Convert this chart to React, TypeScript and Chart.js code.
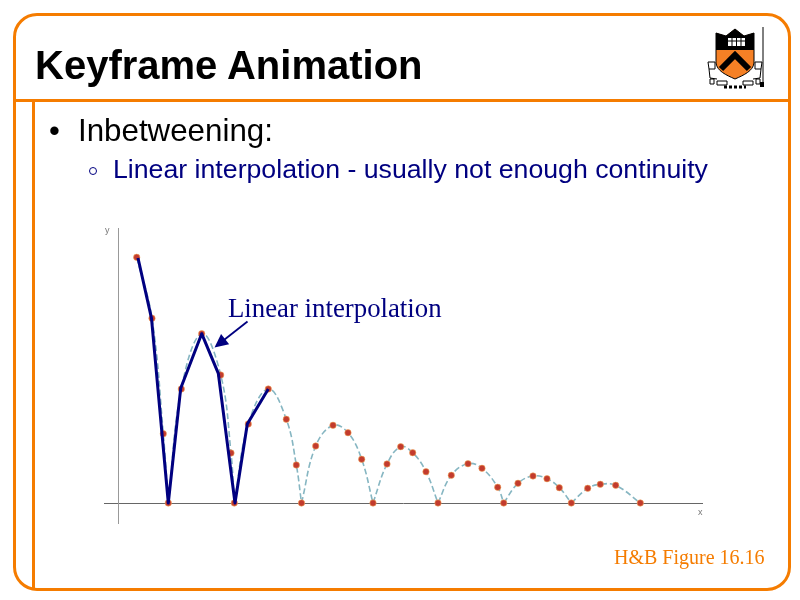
import React, { useEffect, useRef } from "react";
import { Chart, registerables } from "chart.js";

Chart.register(...registerables);

type P = { x: number; y: number };
const pts = (a: number[][]): P[] => a.map(([x, y]) => ({ x, y }));

const keyframes = [
  [18.7, 245.7], [34, 184.7], [45.3, 69.3], [50.3, 0], [63.3, 114], [83.7, 169.3], [102.7, 128], [113, 50],
  [116.3, 0], [130.3, 79], [150.3, 114], [168.3, 83.7], [178.3, 38], [183.5, 0], [197.7, 57], [215, 77.7],
  [230, 70.3], [243.7, 43.7], [255, 0], [269, 39], [282.7, 56.3], [294.7, 50.3], [308, 31.3], [320, 0],
  [333.3, 27.7], [350, 39.3], [364, 34.7], [379.7, 15.7], [385.7, 0], [400, 19.7], [415, 27], [429, 24.3],
  [441.3, 15.3], [453.3, 0], [469.7, 14.7], [482.3, 18.7], [497.7, 17.7], [522.3, 0],
];

const arc1 = [[18.7, 245.7], [34, 184.7], [45.3, 69.3], [50.3, 0]];
const arc2 = [[50.3, 0], [63.3, 114], [83.7, 169.3], [102.7, 128], [113, 50], [116.3, 0]];
const arc3 = [[116.3, 0], [130.3, 79], [150.3, 114], [168.3, 83.7], [178.3, 38], [183.5, 0]];
const arc4 = [[183.5, 0], [197.7, 57], [215, 77.7], [230, 70.3], [243.7, 43.7], [255, 0]];
const arc5 = [[255, 0], [269, 39], [282.7, 56.3], [294.7, 50.3], [308, 31.3], [320, 0]];
const arc6 = [[320, 0], [333.3, 27.7], [350, 39.3], [364, 34.7], [379.7, 15.7], [385.7, 0]];
const arc7 = [[385.7, 0], [400, 19.7], [415, 27], [429, 24.3], [441.3, 15.3], [453.3, 0]];
const arc8 = [[453.3, 0], [469.7, 14.7], [482.3, 18.7], [497.7, 17.7], [522.3, 0]];
const arcs = [arc1, arc2, arc3, arc4, arc5, arc6, arc7, arc8];

const linearPath = [
  [20, 245], [33.5, 184.7], [50.3, 0], [62.7, 114.7], [83.7, 169.3], [100.3, 129.7], [117, 0], [129.3, 79], [150.3, 114],
];

const arrowFrom = [129.5, 181.5];
const arrowTo = [96.5, 155.5];
const annotationLabel = "Linear interpolation";
const annotationAt = [110, 186];

const NAVY = "#000080";
const ORANGE = "#f57c00";

const overlay = {
  id: "overlay",
  afterDatasetsDraw(chart: any) {
    const { ctx, scales } = chart;
    const X = scales.x, Y = scales.y;
    const x1 = X.getPixelForValue(arrowFrom[0]), y1 = Y.getPixelForValue(arrowFrom[1]);
    const x2 = X.getPixelForValue(arrowTo[0]), y2 = Y.getPixelForValue(arrowTo[1]);
    const a = Math.atan2(y2 - y1, x2 - x1);
    ctx.save();
    ctx.strokeStyle = NAVY;
    ctx.fillStyle = NAVY;
    ctx.lineWidth = 1.8;
    ctx.beginPath();
    ctx.moveTo(x1, y1);
    ctx.lineTo(x2 - 8 * Math.cos(a), y2 - 8 * Math.sin(a));
    ctx.stroke();
    ctx.beginPath();
    ctx.moveTo(x2, y2);
    ctx.lineTo(x2 - 15 * Math.cos(a - 0.45), y2 - 15 * Math.sin(a - 0.45));
    ctx.lineTo(x2 - 15 * Math.cos(a + 0.45), y2 - 15 * Math.sin(a + 0.45));
    ctx.closePath();
    ctx.fill();
    ctx.font = '26.8px "Liberation Serif"';
    ctx.textBaseline = "alphabetic";
    ctx.fillText(annotationLabel, X.getPixelForValue(annotationAt[0]), Y.getPixelForValue(annotationAt[1]));
    ctx.fillStyle = "#777";
    ctx.font = '9px "Liberation Sans"';
    ctx.fillText("y", 105, 233);
    ctx.fillText("x", 698, 515);
    ctx.restore();
  },
};

const abs = (o: React.CSSProperties): React.CSSProperties => ({ position: "absolute", whiteSpace: "nowrap", margin: 0, ...o });

function Logo() {
  return (
    <svg width="80" height="72" viewBox="0 0 80 72" style={abs({ left: 700, top: 24 })}>
      <path d="M16 9 L26 12 L35 5 L44 12 L54 9 L54 39 C53 47 44 51 35 55 C26 51 17 47 16 39 Z" fill="#f58025" stroke="#000" strokeWidth="1" />
      <path d="M16 9 L26 12 L35 5 L44 12 L54 9 L54 26 L16 26 Z" fill="#000" />
      <path d="M21 45 L35 31 L49 45" fill="none" stroke="#000" strokeWidth="6" />
      <rect x="28" y="14" width="17" height="8" fill="#fff" />
      <path d="M32 14 V22 M36.5 14 V22 M41 14 V22 M28 17 H45" stroke="#000" strokeWidth="1" />
      <path d="M8 38 H15 V45 H9 Z M9 45 L10 54 L17 55 M10 55 H14 V60 H10 Z M17 57 H27 V61 H17 Z" fill="none" stroke="#000" strokeWidth="1" />
      <path d="M62 38 H55 V45 H61 Z M61 45 L60 54 L53 55 M60 55 H56 V60 H60 Z M53 57 H43 V61 H53 Z" fill="none" stroke="#000" strokeWidth="1" />
      <path d="M24 63 H46" stroke="#000" strokeWidth="3" strokeDasharray="3 2" />
      <path d="M63 3 V62" stroke="#000" strokeWidth="1" />
      <rect x="60" y="58" width="4" height="5" fill="#000" />
    </svg>
  );
}

export default function App() {
  const ref = useRef<HTMLCanvasElement>(null);
  useEffect(() => {
    const dashed = arcs.map((a) => ({
      data: pts(a),
      showLine: true,
      borderColor: "#86b6c2",
      borderWidth: 1.6,
      borderDash: [6, 3],
      tension: 0.4,
      pointRadius: 0,
      order: 3,
    }));
    const chart = new Chart(ref.current!, {
      type: "scatter",
      data: {
        datasets: [
          ...dashed,
          {
            data: pts(keyframes),
            showLine: false,
            pointRadius: 3.2,
            pointBackgroundColor: "#c23b2e",
            pointBorderColor: "rgba(245,170,90,0.7)",
            pointBorderWidth: 0.8,
            order: 2,
          },
          {
            data: pts(linearPath),
            showLine: true,
            borderColor: NAVY,
            borderWidth: 3,
            borderJoinStyle: "round",
            tension: 0,
            pointRadius: 0,
            order: 1,
          },
        ],
      },
      options: {
        animation: false,
        responsive: false,
        layout: { padding: { left: 104, right: 98, top: 228, bottom: 77 } },
        plugins: { legend: { display: false }, tooltip: { enabled: false } },
        scales: {
          x: {
            type: "linear",
            min: -14,
            max: 584,
            position: { y: 0 },
            grid: { display: false, drawTicks: false },
            border: { display: true, color: "#666", width: 1 },
            ticks: { display: false },
          },
          y: {
            type: "linear",
            min: -20,
            max: 275,
            position: { x: 0 },
            grid: { display: false, drawTicks: false },
            border: { display: true, color: "#999", width: 1 },
            ticks: { display: false },
          },
        },
      },
      plugins: [overlay],
    } as any);
    return () => chart.destroy();
  }, []);

  return (
    <div style={{ position: "fixed", left: 0, top: 0, width: 800, height: 600, background: "#fff", overflow: "hidden" }}>
      <canvas ref={ref} width={800} height={600} style={abs({ left: 0, top: 0, display: "block" })} />
      <div style={abs({ left: 13, top: 13, width: 772, height: 572, border: `3px solid ${ORANGE}`, borderRadius: 24 })} />
      <div style={abs({ left: 13, top: 99, width: 776, height: 3, background: ORANGE })} />
      <div style={abs({ left: 32, top: 100, width: 3, height: 488, background: ORANGE })} />
      <div style={abs({ left: 35, top: 40, font: 'bold 40px/50px "Liberation Sans"', color: "#000" })}>Keyframe Animation</div>
      <div style={abs({ left: 49, top: 113, font: '31px/36px "Liberation Sans"', color: "#000" })}>•</div>
      <div style={abs({ left: 78, top: 113, font: '31.3px/36px "Liberation Sans"', color: "#000" })}>Inbetweening:</div>
      <div style={abs({ left: 89, top: 167, width: 6, height: 6, border: `1px solid ${NAVY}`, borderRadius: "50%" })} />
      <div style={abs({ left: 113, top: 152, font: '26.7px/34px "Liberation Sans"', color: NAVY })}>Linear interpolation - usually not enough continuity</div>
      <div style={abs({ left: 614, top: 545, font: '20px/24px "Liberation Serif"', color: ORANGE })}>H&amp;B Figure 16.16</div>
      <Logo />
    </div>
  );
}
